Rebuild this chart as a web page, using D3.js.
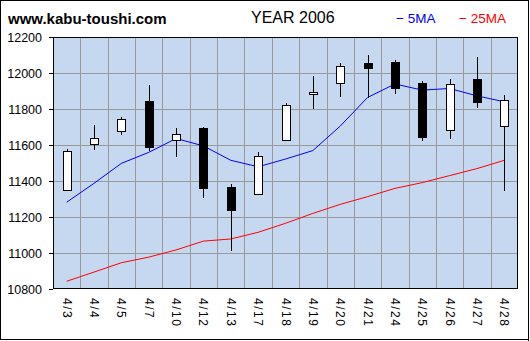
<!DOCTYPE html>
<html>
<head>
<meta charset="utf-8">
<script src="https://cdn.jsdelivr.net/npm/d3@7"></script>
<style>
  html, body { margin: 0; padding: 0; background: #fff; }
  svg { display: block; }
  text { font-family: "Liberation Sans", Arial, sans-serif; }
</style>
</head>
<body>
<svg id="chart" width="530" height="341"></svg>
<script>
// Daily Nikkei-style candles, April 2006
const dates = ["4/3","4/4","4/5","4/7","4/10","4/12","4/13","4/17","4/18","4/19","4/20","4/21","4/24","4/25","4/26","4/27","4/28"];
const opens  = [11348, 11604, 11676, 11844, 11626, 11693, 11367, 11326, 11626, 11882, 11943, 12056, 12061, 11944, 11682, 11965, 11702];
const highs  = [11578, 11710, 11754, 11933, 11693, 11698, 11382, 11561, 11833, 11983, 12056, 12100, 12072, 11956, 11967, 12089, 11878];
const lows   = [11348, 11574, 11657, 11568, 11535, 11307, 11013, 11326, 11626, 11802, 11868, 11863, 11885, 11624, 11633, 11806, 11346];
const closes = [11565, 11637, 11743, 11591, 11659, 11357, 11241, 11537, 11821, 11894, 12039, 12030, 11918, 11646, 11937, 11835, 11848];
const ma5    = [11282, 11387, 11498, 11559, 11636, 11595, 11515, 11479, 11522, 11569, 11705, 11864, 11939, 11905, 11914, 11873, 11840];
const ma25   = [10843, 10894, 10946, 10977, 11017, 11066, 11078, 11115, 11165, 11220, 11270, 11313, 11359, 11391, 11430, 11469, 11515];
const yTicks = [10800, 11000, 11200, 11400, 11600, 11800, 12000, 12200];

const svg = d3.select("#chart");
const W = 530, H = 341;
const plot = { left: 53, right: 518, top: 37, bottom: 289 };

// outer frame
svg.append("rect")
  .attr("x", 0.5).attr("y", 0.5).attr("width", 528).attr("height", 339)
  .attr("fill", "#fff").attr("stroke", "#000").attr("stroke-width", 1);
svg.append("line").attr("x1", 528.5).attr("x2", 528.5).attr("y1", 0).attr("y2", 341)
  .attr("stroke", "#000");

const x = d3.scaleBand().domain(dates).range([plot.left, plot.right]).padding(0);
const y = d3.scaleLinear().domain([10800, 12200]).range([plot.bottom, plot.top]);
const cx = d => x(d) + x.bandwidth() / 2;

// plot background
svg.append("rect")
  .attr("x", plot.left).attr("y", plot.top)
  .attr("width", plot.right - plot.left).attr("height", plot.bottom - plot.top)
  .attr("fill", "#c6d8f0");

// grid
const grid = svg.append("g").attr("stroke", "#999").attr("stroke-width", 1).attr("shape-rendering", "crispEdges");
grid.selectAll("line.h").data(yTicks.slice(1, -1)).join("line")
  .attr("x1", plot.left).attr("x2", plot.right)
  .attr("y1", d => Math.round(y(d)) + 0.5).attr("y2", d => Math.round(y(d)) + 0.5);
grid.selectAll("line.v").data(dates.slice(1)).join("line")
  .attr("x1", d => Math.round(x(d)) + 0.5).attr("x2", d => Math.round(x(d)) + 0.5)
  .attr("y1", plot.top).attr("y2", plot.bottom);

// y axis
const yAxis = svg.append("g")
  .attr("transform", `translate(${plot.left},0)`)
  .call(d3.axisLeft(y).tickValues(yTicks).tickSize(4).tickPadding(7).tickFormat(d3.format("d")));
yAxis.select(".domain").remove();
yAxis.selectAll(".tick line").attr("stroke", "#000").attr("shape-rendering", "crispEdges");
yAxis.selectAll(".tick text")
  .attr("font-size", "12.5px").attr("fill", "#000")
  .attr("font-family", "'Liberation Sans', Arial, sans-serif");

// x axis labels (rotated)
const xAxis = svg.append("g")
  .attr("transform", `translate(0,${plot.bottom})`)
  .call(d3.axisBottom(x).tickSize(0).tickPadding(0));
xAxis.select(".domain").remove();
xAxis.selectAll(".tick text")
  .attr("font-size", "12px").attr("fill", "#000")
  .attr("font-family", "'Liberation Sans', Arial, sans-serif")
  .attr("letter-spacing", "1.5px")
  .attr("text-anchor", "start")
  .attr("dominant-baseline", "central")
  .attr("dy", null)
  .attr("y", 0)
  .attr("transform", "translate(0,9) rotate(90)");

// moving averages
const line = d3.line().x((d, i) => cx(dates[i])).y(d => y(d));
svg.append("path").datum(ma25).attr("d", line)
  .attr("fill", "none").attr("stroke", "#ff0000").attr("stroke-width", 1);
svg.append("path").datum(ma5).attr("d", line)
  .attr("fill", "none").attr("stroke", "#0000ff").attr("stroke-width", 1);

// candles
const candles = svg.append("g").attr("shape-rendering", "crispEdges");
const idx = d3.range(dates.length);
candles.selectAll("line.wick").data(idx).join("line")
  .attr("x1", i => Math.round(cx(dates[i])) + 0.5)
  .attr("x2", i => Math.round(cx(dates[i])) + 0.5)
  .attr("y1", i => y(highs[i])).attr("y2", i => y(lows[i]))
  .attr("stroke", "#000");
candles.selectAll("rect.body").data(idx).join("rect")
  .attr("x", i => Math.round(cx(dates[i])) - 4 + 0.5)
  .attr("width", 8)
  .attr("y", i => Math.round(y(Math.max(opens[i], closes[i]))) + 0.5)
  .attr("height", i => Math.max(1, Math.round(Math.abs(y(opens[i]) - y(closes[i])))))
  .attr("fill", i => closes[i] >= opens[i] ? "#fff" : "#000")
  .attr("stroke", "#000");

// plot frame
svg.append("rect")
  .attr("x", plot.left + 0.5).attr("y", plot.top + 0.5)
  .attr("width", plot.right - plot.left - 1).attr("height", plot.bottom - plot.top - 1)
  .attr("fill", "none").attr("stroke", "#000").attr("shape-rendering", "crispEdges");

// header
svg.append("text").attr("x", 8).attr("y", 24)
  .attr("font-size", "15px").attr("font-weight", "bold").attr("fill", "#000")
  .text("www.kabu-toushi.com");
svg.append("text").attr("x", 251).attr("y", 23)
  .attr("font-size", "16px").attr("fill", "#000")
  .text("YEAR 2006");
svg.append("text").attr("x", 396).attr("y", 23)
  .attr("font-size", "13.5px").attr("fill", "#0000ff")
  .text("\u2212 5MA");
svg.append("text").attr("x", 459).attr("y", 23)
  .attr("font-size", "13.5px").attr("fill", "#ff0000")
  .text("\u2212 25MA");
</script>
</body>
</html>
